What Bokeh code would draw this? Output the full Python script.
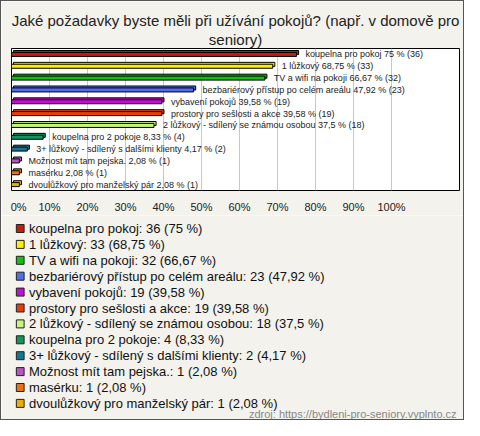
from bokeh.plotting import figure
from bokeh.layouts import column
from bokeh.models import (FactorRange, Range1d, ColumnDataSource, FixedTicker, Label, Title)
from bokeh.transform import dodge
from bokeh.core.properties import value
from bokeh.embed import file_html
from bokeh.resources import INLINE

categories = [
    "koupelna pro pokoj",
    "1 lůžkový",
    "TV a wifi na pokoji",
    "bezbariérový přístup po celém areálu",
    "vybavení pokojů",
    "prostory pro sešlosti a akce",
    "2 lůžkový - sdílený se známou osobou",
    "koupelna pro 2 pokoje",
    "3+ lůžkový - sdílený s dalšími klienty",
    "Možnost mít tam pejska.",
    "masérku",
    "dvoulůžkový pro manželský pár",
]
counts = [36, 33, 32, 23, 19, 19, 18, 4, 2, 1, 1, 1]
percents = [75, 68.75, 66.67, 47.92, 39.58, 39.58, 37.5, 8.33, 4.17, 2.08, 2.08, 2.08]
percent_texts = ["75", "68,75", "66,67", "47,92", "39,58", "39,58", "37,5",
                 "8,33", "4,17", "2,08", "2,08", "2,08"]
colors = ["#c41e0a", "#ffee00", "#11c011", "#4f6ff0", "#c010d0", "#e83c0c",
          "#c8f57c", "#14935c", "#1a7590", "#b957c0", "#ea7414", "#e8b000"]
tick_values = [0, 10, 20, 30, 40, 50, 60, 70, 80, 90, 100]
tick_labels = ["\u00a0\u00a0\u00a00%", "10%", "20%", "30%", "40%", "50%",
               "60%", "70%", "80%", "90%", "100%"]

title_lines = ["Jaké požadavky byste měli při užívání pokojů? (např. v domově pro",
               "seniory)"]
source_text = "zdroj: https://bydleni-pro-seniory.vyplnto.cz"

FONT = "Liberation Sans"
BG = "#f3f2ec"
W = 462
TOP_H = 214
BOT_H = 418 - TOP_H
ROW0 = 13
ROW_PITCH = 15.9

bar_labels = [f"{c} {p} % ({n})" for c, p, n in zip(categories, percent_texts, counts)]
legend_labels = [f"{c}: {n} ({p} %)" for c, p, n in zip(categories, percent_texts, counts)]

src = ColumnDataSource(dict(
    cat=categories,
    pct=percents,
    pct_back=[v + 0.55 for v in percents],
    left_back=[0.55] * len(percents),
    color=colors,
    label=bar_labels,
))

# ---------------- bar chart ----------------
p = figure(width=W, height=TOP_H,
           x_range=Range1d(0, 448 / 3.8),
           y_range=FactorRange(factors=list(reversed(categories))),
           output_backend="svg", toolbar_location=None,
           min_border_left=10, min_border_right=4, min_border_top=47,
           min_border_bottom=22)

# two centred title lines (first added sits next to the frame)
for line, stand in [(title_lines[1], 1), (title_lines[0], 0)]:
    p.add_layout(Title(text=line, align="center", text_font=FONT,
                       text_font_size="15px", text_font_style="normal",
                       text_color="#222222", standoff=stand), "above")

p.background_fill_color = "white"
p.border_fill_color = BG
p.outline_line_color = "black"
p.outline_line_width = 1

# 3D back face
p.hbar(y=dodge("cat", 0.16, range=p.y_range), left="left_back", right="pct_back",
       height=0.34, fill_color="color", line_color="black", line_width=1, source=src)
p.hbar(y="cat", left=0, right="pct", height=0.34, fill_color="color",
       line_color="black", line_width=1, source=src)

p.text(x="pct", y="cat", text="label", x_offset=9, text_baseline="middle",
       text_font=value(FONT), text_font_size="9px", text_color="#222222", source=src)

p.yaxis.visible = False
p.ygrid.grid_line_color = None
ax = p.xaxis[0]
ax.ticker = FixedTicker(ticks=tick_values)
ax.major_label_overrides = {v: l for v, l in zip(tick_values, tick_labels)}
ax.axis_line_color = None
ax.major_tick_line_color = None
ax.minor_tick_line_color = None
ax.major_label_text_font = FONT
ax.major_label_text_font_size = "11px"
ax.major_label_text_color = "#222222"
ax.major_label_standoff = 4
p.xgrid.grid_line_color = "#c8c8c8"

# ---------------- legend panel ----------------
n = len(categories)
src2 = ColumnDataSource(dict(
    y=[ROW0 + ROW_PITCH * i for i in range(n)],
    label=legend_labels,
    color=colors,
))

p2 = figure(width=W, height=BOT_H,
            x_range=Range1d(0, W), y_range=Range1d(BOT_H, 0),
            output_backend="svg", toolbar_location=None,
            min_border_left=0, min_border_right=0, min_border_top=0,
            min_border_bottom=0)
p2.axis.visible = False
p2.grid.grid_line_color = None
p2.outline_line_color = None
p2.background_fill_color = BG
p2.border_fill_color = BG

p2.rect(x=9, y="y", width=8, height=8, fill_color="color", line_color="#222222",
        line_width=1, source=src2)
p2.text(x=18, y="y", text="label", text_baseline="middle", text_font=value(FONT),
        text_font_size="13px", text_color="#111111", source=src2)

p2.add_layout(Label(x=W - 3, y=BOT_H - 6, text=source_text, text_align="right",
                    text_baseline="middle", text_font=FONT, text_font_size="11px",
                    text_color="#888888"))

layout = column(p, p2, spacing=0, styles={"border": "1px solid #555555"})
open("out.html", "w").write(file_html(layout, INLINE))
